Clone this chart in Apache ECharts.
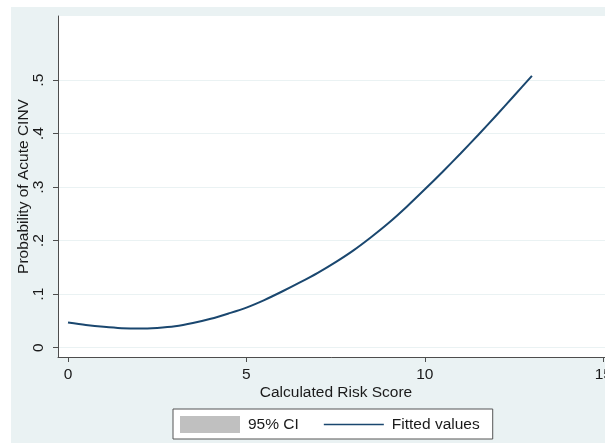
<!DOCTYPE html>
<html>
<head>
<meta charset="utf-8">
<script src="https://cdn.jsdelivr.net/npm/echarts@6/dist/echarts.min.js"></script>
<style>
  html, body { margin: 0; padding: 0; background: #ffffff; width: 605px; height: 443px; overflow: hidden; }
  #chart { position: absolute; left: 11px; top: 7px; width: 594px; height: 436px; background: #eaf2f3; }
</style>
</head>
<body>
<div id="chart"></div>
<script>
// Data
const riskScore = [0, 0.5, 1, 1.5, 2, 2.5, 3, 3.5, 4, 4.5, 5, 5.5, 6, 6.5, 7, 7.5, 8, 8.5, 9, 9.5, 10, 10.5, 11, 11.5, 12, 12.5, 13];
const fittedValues = [0.047, 0.0425, 0.039, 0.0365, 0.0357, 0.037, 0.040, 0.046, 0.054, 0.064, 0.075, 0.089, 0.105, 0.122, 0.140, 0.160, 0.182, 0.207, 0.234, 0.264, 0.296, 0.329, 0.363, 0.398, 0.434, 0.471, 0.508];
const xTicks = [0, 5, 10, 15];
const yTicks = [0, 0.1, 0.2, 0.3, 0.4, 0.5];
const seriesNames = ['95% CI', 'Fitted values'];
const xTitle = 'Calculated Risk Score';
const yTitle = 'Probability of Acute CINV';

const FONT = "'Liberation Sans', Arial, sans-serif";
const FS = 15.5;
const chart = echarts.init(document.getElementById('chart'), null, { renderer: 'canvas' });

// legend icon: a thin horizontal line centred in the 60x17 icon box
const lineIcon = 'path://M0,0h0.01v0.01h-0.01z M0,7.75h60v1.5h-60z M0,16.99h0.01v0.01h-0.01z';

chart.setOption({
  animation: false,
  backgroundColor: 'transparent',
  textStyle: { fontFamily: FONT },
  grid: {
    left: 47, top: 9, right: -9, bottom: 86,
    show: true, backgroundColor: '#ffffff', borderWidth: 0,
    containLabel: false,
    outerBoundsMode: 'none'
  },
  xAxis: {
    type: 'value',
    min: -0.28, max: 15.3,
    name: xTitle,
    nameLocation: 'middle',
    nameGap: 28,
    nameMoveOverlap: false,
    nameTextStyle: { fontSize: FS, color: '#1a1a1a', fontFamily: FONT },
    axisLine: { show: true, onZero: false, lineStyle: { color: '#4d4d4d', width: 1 } },
    axisTick: { show: true, length: 5, customValues: xTicks, lineStyle: { color: '#4d4d4d' } },
    axisLabel: { customValues: xTicks, fontSize: FS, color: '#1a1a1a', margin: 10, fontFamily: FONT, hideOverlap: false, showMaxLabel: true },
    splitLine: { show: false }
  },
  yAxis: {
    type: 'value',
    min: -0.0174, max: 0.62,
    name: yTitle,
    nameLocation: 'middle',
    nameGap: 26,
    nameMoveOverlap: false,
    nameTextStyle: { fontSize: FS, color: '#1a1a1a', fontFamily: FONT },
    axisLine: { show: true, onZero: false, lineStyle: { color: '#4d4d4d', width: 1 } },
    axisTick: { show: true, length: 5, customValues: yTicks, lineStyle: { color: '#4d4d4d' } },
    axisLabel: {
      customValues: yTicks, rotate: 90, fontSize: FS, color: '#1a1a1a', margin: 11, fontFamily: FONT,
      formatter: v => (Math.abs(v) < 1e-9 ? '0' : v.toFixed(1).replace(/^0/, ''))
    },
    splitLine: { show: true, lineStyle: { color: '#eaf2f3', width: 1 } }
  },
  legend: {
    left: 162, top: 402,
    orient: 'horizontal',
    backgroundColor: '#ffffff',
    borderColor: '#555555', borderWidth: 1, borderRadius: 0,
    padding: [7, 13, 6, 7],
    itemWidth: 60, itemHeight: 17, itemGap: 25,
    textStyle: { fontSize: FS, color: '#1a1a1a', fontFamily: FONT, padding: [0, 0, 0, 3] },
    data: [
      { name: seriesNames[0], icon: 'rect', itemStyle: { color: '#c0c0c0', borderWidth: 0 } },
      { name: seriesNames[1], icon: lineIcon, itemStyle: { color: '#1a476f', borderWidth: 0 } }
    ]
  },
  series: [
    {
      name: seriesNames[0],
      type: 'line',
      data: [],
      color: '#c0c0c0',
      showSymbol: false
    },
    {
      name: seriesNames[1],
      type: 'line',
      data: riskScore.map((x, i) => [x, fittedValues[i]]),
      smooth: 0.3,
      showSymbol: false,
      symbol: 'none',
      color: '#1a476f',
      lineStyle: { color: '#1a476f', width: 2 }
    }
  ]
});
</script>
</body>
</html>
